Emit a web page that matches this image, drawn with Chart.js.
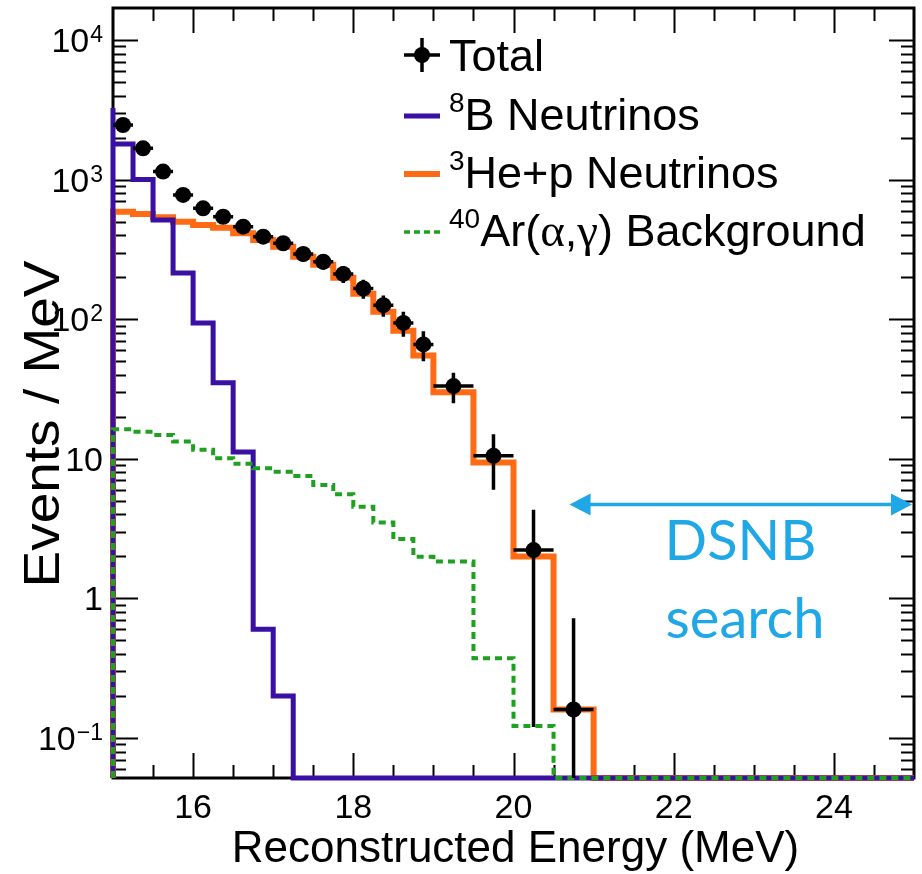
<!DOCTYPE html>
<html>
<head>
<meta charset="utf-8">
<script src="https://cdn.jsdelivr.net/npm/chart.js@4.4.1/dist/chart.umd.min.js"></script>
<style>
  html, body { margin: 0; padding: 0; background: #ffffff; }
  canvas { display: block; }
</style>
</head>
<body>
<canvas id="spectrum" width="922" height="874"></canvas>
<script>
// ---- Binning (MeV): 0.25 MeV bins up to 19 MeV, 0.5 MeV bins above ----
const binEdges = [15, 15.25, 15.5, 15.75, 16, 16.25, 16.5, 16.75, 17, 17.25, 17.5, 17.75,
                  18, 18.25, 18.5, 18.75, 19, 19.5, 20, 20.5, 21, 21.5, 22, 22.5, 23, 23.5,
                  24, 24.5, 25];

// ---- Expected spectra, Events / MeV per bin ----
const boron8 = [1800, 1000, 514, 214, 94, 35, 11.2, 0.6, 0.2,
                0, 0, 0, 0, 0, 0, 0, 0, 0, 0, 0, 0, 0, 0, 0, 0, 0, 0, 0];
const boron8EdgePeak = 3260;   // height reached by the 8B line at the lower edge
const hep = [589, 567, 537, 499, 473, 452, 412, 369, 330, 280, 245, 198, 152, 113, 82.5, 55,
             30, 9.4, 2.0, 0.16, 0, 0, 0, 0, 0, 0, 0, 0];
const argonAlphaGamma = [16.3, 15.6, 14.8, 13.3, 11.6, 10.1, 9.2, 8.55, 8.09, 7.53, 6.49, 5.57,
                         4.54, 3.49, 2.66, 1.99, 1.84, 0.372, 0.122, 0, 0, 0, 0, 0, 0, 0, 0, 0];

// ---- Total (points with error bars) ----
const totalEnergy = [15.125, 15.375, 15.625, 15.875, 16.125, 16.375, 16.625, 16.875, 17.125,
                     17.375, 17.625, 17.875, 18.125, 18.375, 18.625, 18.875, 19.25, 19.75, 20.25, 20.75];
const totalRate = [2460, 1675, 1141, 777, 623, 542, 460, 390, 350, 293, 258, 211, 166, 126,
                   94, 66, 33.2, 10.5, 2.22, 0.16];
const totalError = [99, 82, 68, 56, 50, 47, 43, 40, 37, 34, 32, 29, 26, 22, 19, 16, 8.2, 4.5, 2.1, 0.56];
const totalHalfWidth = [0.125, 0.125, 0.125, 0.125, 0.125, 0.125, 0.125, 0.125, 0.125, 0.125,
                        0.125, 0.125, 0.125, 0.125, 0.125, 0.125, 0.25, 0.25, 0.25, 0.25];

// ---- Axis ticks ----
const xTickValues = [16, 18, 20, 22, 24];
const xTickLabels = ['16', '18', '20', '22', '24'];
const yTickValues = [0.1, 1, 10, 100, 1000, 10000];
const yTickBase   = ['10', '1', '10', '10', '10', '10'];
const yTickExp    = ['\u22121', '', '', '2', '3', '4'];

// ---- DSNB search window ----
const dsnbFrom = 20.7, dsnbTo = 25, dsnbLevel = 4.7;

const X_MIN = 15, X_MAX = 25;
const Y_MIN = 0.0517, Y_MAX = 16950;

const SANS = '"Liberation Sans", Arial, Helvetica, sans-serif';
const SERIF = '"Liberation Serif", "Times New Roman", serif';
const BLUE = '#3a0fa3';
const ORANGE = '#ff6a14';
const GREEN = '#20a020';
const CYAN = '#1fa7e6';

// Step outline of a histogram; empty bins sit on the lower edge of the frame.
function histPoints(values, edgePeak) {
  const pts = [{ x: binEdges[0], y: Y_MIN }];
  if (edgePeak) pts.push({ x: binEdges[0], y: edgePeak });
  values.forEach((v, i) => {
    const y = v > 0 ? v : Y_MIN;
    pts.push({ x: binEdges[i], y: y }, { x: binEdges[i + 1], y: y });
  });
  pts.push({ x: binEdges[binEdges.length - 1], y: Y_MIN });
  return pts;
}

const histClip = { left: 6, right: 6, top: 0, bottom: 6 };

// Frame with inward ticks on all four sides (drawn beneath the histograms)
const framePlugin = {
  id: 'frameTicks',
  beforeDatasetsDraw(chart) {
    const { ctx, chartArea: a, scales } = chart;
    const xs = scales.x, ys = scales.y;
    ctx.save();
    ctx.strokeStyle = '#000';
    ctx.lineWidth = 2;
    ctx.beginPath();
    for (let e = X_MIN + 0.5; e < X_MAX; e += 0.5) {
      const px = Math.round(xs.getPixelForValue(e)) + 0.5;
      const len = (Math.abs(e % 2) < 1e-9) ? 25 : 13;
      ctx.moveTo(px, a.bottom); ctx.lineTo(px, a.bottom - len);
      ctx.moveTo(px, a.top); ctx.lineTo(px, a.top + len);
    }
    for (let d = -2; d <= 4; d++) {
      for (let m = 1; m <= 9; m++) {
        const v = m * Math.pow(10, d);
        if (v <= Y_MIN || v >= Y_MAX) continue;
        const py = Math.round(ys.getPixelForValue(v)) + 0.5;
        const len = m === 1 ? 25 : 13;
        ctx.moveTo(a.left, py); ctx.lineTo(a.left + len, py);
        ctx.moveTo(a.right, py); ctx.lineTo(a.right - len, py);
      }
    }
    ctx.stroke();
    ctx.lineWidth = 3;
    ctx.strokeRect(a.left, a.top, a.right - a.left, a.bottom - a.top);
    ctx.restore();
  }
};

// Error bars of the Total points, drawn just before its markers
const errorBarPlugin = {
  id: 'totalErrors',
  beforeDatasetDraw(chart, args) {
    if (args.index !== 0) return;
    const { ctx, chartArea: a, scales } = chart;
    const xs = scales.x, ys = scales.y;
    ctx.save();
    ctx.beginPath();
    ctx.rect(a.left, a.top, a.right - a.left, a.bottom - a.top);
    ctx.clip();
    ctx.strokeStyle = '#000';
    ctx.lineWidth = 3.5;
    ctx.beginPath();
    totalEnergy.forEach((e, i) => {
      const v = totalRate[i], err = totalError[i], hw = totalHalfWidth[i];
      const px = xs.getPixelForValue(e), py = ys.getPixelForValue(v);
      const hi = ys.getPixelForValue(v + err);
      const lo = v - err > 0 ? ys.getPixelForValue(v - err) : a.bottom + 5;
      ctx.moveTo(px, hi); ctx.lineTo(px, lo);
      ctx.moveTo(xs.getPixelForValue(e - hw), py); ctx.lineTo(xs.getPixelForValue(e + hw), py);
    });
    ctx.stroke();
    ctx.restore();
  }
};

function drawRich(ctx, x, baseline, parts) {
  let cx = x;
  parts.forEach(p => {
    ctx.font = p.font;
    ctx.fillText(p.t, cx, baseline + (p.dy || 0));
    cx += ctx.measureText(p.t).width + (p.gap || 0);
  });
}

// Tick labels, axis titles, legend and the DSNB window annotation
const textPlugin = {
  id: 'textLayer',
  afterDraw(chart) {
    const { ctx, chartArea: a, scales } = chart;
    const xs = scales.x, ys = scales.y;
    ctx.save();
    ctx.fillStyle = '#000';
    ctx.textBaseline = 'alphabetic';

    // x tick labels
    ctx.font = '34px ' + SANS;
    ctx.textAlign = 'center';
    xTickValues.forEach((v, i) => ctx.fillText(xTickLabels[i], xs.getPixelForValue(v), a.bottom + 40));

    // y tick labels (10 with raised exponent)
    ctx.textAlign = 'left';
    const labelRight = a.left - 10;
    yTickValues.forEach((v, i) => {
      const py = ys.getPixelForValue(v);
      ctx.font = '23px ' + SANS;
      const ew = yTickExp[i] ? ctx.measureText(yTickExp[i]).width : 0;
      ctx.font = '34px ' + SANS;
      const bw = ctx.measureText(yTickBase[i]).width;
      const x0 = labelRight - ew - bw - (ew ? 1 : 0);
      ctx.fillText(yTickBase[i], x0, py + 12);
      if (ew) {
        ctx.font = '23px ' + SANS;
        ctx.fillText(yTickExp[i], x0 + bw + 1, py + 2);
      }
    });

    // axis titles
    ctx.font = '44px ' + SANS;
    ctx.textAlign = 'center';
    ctx.fillText('Reconstructed Energy (MeV)', (a.left + a.right) / 2 + 2, a.bottom + 84);
    ctx.save();
    ctx.translate(42, 424);
    ctx.rotate(-Math.PI / 2);
    ctx.scale(1.1, 1);
    ctx.font = '50px ' + SANS;
    ctx.fillText('Events / MeV', 0, 17);
    ctx.restore();

    // legend
    ctx.textAlign = 'left';
    const lx0 = 404, lx1 = 440, tx = 449;
    const rows = [55, 114, 172, 230];
    const big = '45px ' + SANS, sup = '28px ' + SANS;
    const capHalf = 16;
    // Total: marker with error cross
    ctx.strokeStyle = '#000';
    ctx.lineWidth = 3.5;
    ctx.beginPath();
    ctx.moveTo(lx0, rows[0]); ctx.lineTo(lx1, rows[0]);
    ctx.moveTo((lx0 + lx1) / 2, rows[0] - 17); ctx.lineTo((lx0 + lx1) / 2, rows[0] + 17);
    ctx.stroke();
    ctx.beginPath();
    ctx.arc((lx0 + lx1) / 2, rows[0], 8, 0, Math.PI * 2);
    ctx.fill();
    drawRich(ctx, tx, rows[0] + capHalf, [{ t: 'Total', font: big }]);
    // 8B
    ctx.lineWidth = 5; ctx.strokeStyle = BLUE;
    ctx.beginPath(); ctx.moveTo(lx0, rows[1] + 2); ctx.lineTo(lx1, rows[1] + 2); ctx.stroke();
    drawRich(ctx, tx, rows[1] + capHalf, [
      { t: '8', font: sup, dy: -18 }, { t: 'B Neutrinos', font: big }]);
    // hep
    ctx.lineWidth = 6; ctx.strokeStyle = ORANGE;
    ctx.beginPath(); ctx.moveTo(lx0, rows[2] + 2); ctx.lineTo(lx1, rows[2] + 2); ctx.stroke();
    drawRich(ctx, tx, rows[2] + capHalf, [
      { t: '3', font: sup, dy: -18 }, { t: 'He+p Neutrinos', font: big }]);
    // 40Ar(alpha,gamma)
    ctx.lineWidth = 3.5; ctx.strokeStyle = GREEN; ctx.setLineDash([6, 4]);
    ctx.beginPath(); ctx.moveTo(lx0, rows[3] + 2); ctx.lineTo(lx1, rows[3] + 2); ctx.stroke();
    ctx.setLineDash([]);
    drawRich(ctx, tx, rows[3] + capHalf, [
      { t: '40', font: sup, dy: -18 }, { t: 'Ar(', font: big },
      { t: '\u03b1', font: '47px ' + SERIF }, { t: ',', font: big },
      { t: '\u03b3', font: '47px ' + SERIF }, { t: ') Background', font: big }]);

    // DSNB search window
    const ax0 = xs.getPixelForValue(dsnbFrom), ax1 = xs.getPixelForValue(dsnbTo) - 2;
    const ay = ys.getPixelForValue(dsnbLevel);
    const head = 21, half = 11;
    ctx.strokeStyle = CYAN; ctx.fillStyle = CYAN; ctx.lineWidth = 3.5;
    ctx.beginPath(); ctx.moveTo(ax0 + head - 2, ay); ctx.lineTo(ax1 - head + 2, ay); ctx.stroke();
    ctx.beginPath();
    ctx.moveTo(ax0, ay); ctx.lineTo(ax0 + head, ay - half); ctx.lineTo(ax0 + head, ay + half); ctx.closePath();
    ctx.moveTo(ax1, ay); ctx.lineTo(ax1 - head, ay - half); ctx.lineTo(ax1 - head, ay + half); ctx.closePath();
    ctx.fill();
    ctx.font = '56px Lato, "Open Sans", sans-serif';
    ctx.textAlign = 'left';
    ctx.fillText('DSNB', ax0 + 95, ay + 55);
    ctx.fillText('search', ax0 + 96, ay + 133);
    ctx.restore();
  }
};

new Chart(document.getElementById('spectrum').getContext('2d'), {
  type: 'scatter',
  data: {
    datasets: [
      {
        label: 'Total',
        data: totalEnergy.map((x, i) => ({ x: x, y: totalRate[i] })),
        pointRadius: 8, pointHoverRadius: 8,
        backgroundColor: '#000', borderWidth: 0,
        order: 0
      },
      {
        label: '40Ar(alpha,gamma) Background',
        data: histPoints(argonAlphaGamma),
        showLine: true, borderColor: GREEN, borderWidth: 4, borderDash: [7, 5],
        pointRadius: 0, clip: histClip, order: 1
      },
      {
        label: '8B Neutrinos',
        data: histPoints(boron8, boron8EdgePeak),
        showLine: true, borderColor: BLUE, borderWidth: 5,
        pointRadius: 0, clip: histClip, order: 2
      },
      {
        label: '3He+p Neutrinos',
        data: histPoints(hep),
        showLine: true, borderColor: ORANGE, borderWidth: 6,
        pointRadius: 0, clip: histClip, order: 3
      }
    ]
  },
  options: {
    responsive: false,
    animation: false,
    devicePixelRatio: 1,
    layout: { padding: { left: 113, right: 3, top: 8, bottom: 96 } },
    scales: {
      x: { type: 'linear', min: X_MIN, max: X_MAX, display: false },
      y: { type: 'logarithmic', min: Y_MIN, max: Y_MAX, display: false }
    },
    elements: { line: { tension: 0, borderJoinStyle: 'miter', borderCapStyle: 'butt' } },
    plugins: { legend: { display: false }, tooltip: { enabled: false } }
  },
  plugins: [framePlugin, errorBarPlugin, textPlugin]
});
</script>
</body>
</html>
